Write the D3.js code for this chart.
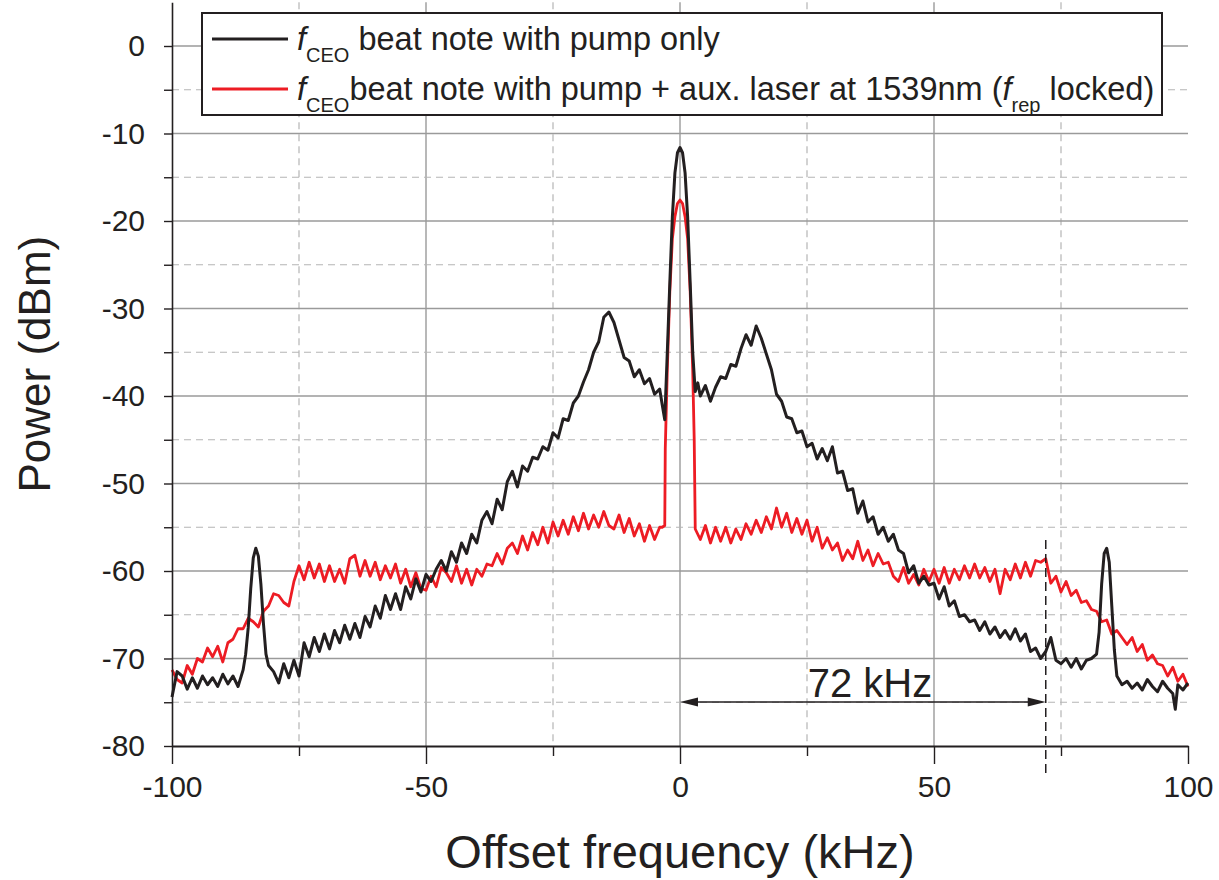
<!DOCTYPE html>
<html>
<head>
<meta charset="utf-8">
<script src="https://cdn.jsdelivr.net/npm/d3@7"></script>
<style>
  body { margin: 0; background: #fff; }
  text { font-family: "Liberation Sans", Arial, Helvetica, sans-serif; fill: #231f20; }
</style>
</head>
<body>
<svg id="chart" width="1219" height="880"></svg>
<script>
// Offset frequency (kHz) and power (dBm), f_CEO beat note with pump only
const freqPump = [
  -100,-99,-98,-97,-96,-95,-94,-93,-92,-91,-90,-89,-88,-87,-86,
  -85.5,-85,-84.5,-84,-83.5,-83,-82.5,-82,-81.5,-81,
  -80,-79,-78,-77,-76,-75,-74,-73,-72,-71,-70,-69,-68,-67,-66,-65,-64,-63,-62,-61,-60,-59,-58,-57,-56,-55,-54,-53,-52,-51,
  -50,-49,-48,-47,-46,-45,-44,-43,-42,-41,-40,-39,-38,-37,-36,-35,-34,-33,-32,-31,-30,-29,-28,-27,-26,-25,-24,-23,-22,-21,-20,
  -19,-18,-17,-16,-15,-14,-13,-12,-11,-10,-9,-8,-7,-6,-5,-4,
  -3.5,-3,-2.5,-2,-1.5,-1,-0.5,0,0.5,1,1.5,2,2.5,3,3.5,
  4,5,6,7,8,9,10,11,12,13,14,15,16,17,18,19,
  20,21,22,23,24,25,26,27,28,29,30,31,32,33,34,35,36,37,38,39,40,41,42,43,44,45,46,47,48,49,50,
  51,52,53,54,55,56,57,58,59,60,61,62,63,64,65,66,67,68,69,70,
  71,72,73,74,75,76,77,78,79,80,81,
  82,82.5,83,83.5,84,84.5,85,85.5,86,
  87,88,89,90,91,92,93,94,95,96,97,97.5,98,99,100
];
const powerPump = [
  -74.4,-71.5,-72.0,-73.5,-72.2,-73.4,-72.0,-73.0,-72.2,-73.2,-71.8,-72.9,-72.0,-73.2,-71.3,
  -69.5,-66.5,-62.0,-58.5,-57.4,-58.3,-61.5,-66.0,-69.5,-70.8,
  -71.5,-72.8,-70.6,-72.2,-70.2,-72.0,-68.2,-69.8,-67.6,-69.2,-67.2,-68.9,-66.8,-68.2,-66.2,-67.8,-66.0,-67.6,-65.2,-66.4,-64.0,-65.4,-62.8,-64.4,-62.6,-64.4,-61.8,-63.2,-60.9,-62.4,
  -60.4,-61.2,-59.8,-58.8,-60.0,-57.8,-59.0,-56.8,-58.0,-55.8,-56.8,-54.2,-53.2,-54.6,-51.8,-53.0,-49.8,-48.6,-50.4,-48.0,-48.6,-47.0,-47.2,-45.8,-46.2,-44.2,-44.8,-42.6,-42.8,-40.8,-40.0,
  -38.4,-37.0,-35.0,-33.8,-31.0,-30.4,-31.6,-33.6,-35.6,-36.0,-37.8,-37.0,-38.6,-38.0,-39.8,-39.2,
  -41.0,-42.7,-35.0,-27.0,-19.5,-14.5,-12.2,-11.6,-12.2,-14.5,-19.5,-27.0,-35.0,-39.5,-38.5,
  -40.0,-38.8,-40.6,-39.0,-37.8,-38.0,-36.4,-36.6,-34.6,-33.0,-34.2,-32.0,-33.4,-35.2,-37.0,-39.8,
  -40.6,-42.4,-42.6,-44.2,-44.0,-45.8,-45.4,-47.2,-46.0,-47.4,-45.8,-48.8,-48.6,-50.8,-50.6,-53.4,-52.0,-54.4,-53.8,-55.8,-55.0,-56.6,-55.8,-57.6,-58.0,-60.2,-59.4,-61.4,-60.6,-61.6,-61.4,
  -63.2,-61.8,-64.0,-63.4,-65.2,-65.0,-65.8,-65.6,-66.8,-65.8,-67.2,-66.4,-67.6,-66.8,-67.8,-66.6,-68.0,-67.2,-69.2,-68.8,
  -70.0,-69.2,-67.6,-70.2,-70.6,-70.0,-71.0,-70.0,-71.2,-70.2,-70.0,
  -69.5,-67.0,-61.5,-58.0,-57.4,-59.0,-64.0,-69.0,-72.0,
  -73.0,-72.6,-73.4,-72.8,-73.6,-72.4,-73.2,-73.8,-72.6,-73.4,-74.0,-75.8,-73.0,-73.6,-72.8
];

// f_CEO beat note with pump + aux. laser at 1539 nm (f_rep locked)
const freqAux = [
  -100,-99,-98,-97,-96,-95,-94,-93,-92,-91,-90,-89,-88,-87,-86,-85,-84,-83,-82,-81,-80,-79,-78,-77,
  -76,-75,-74,-73,-72,-71,-70,-69,-68,-67,-66,-65,-64,-63,-62,-61,-60,-59,-58,-57,-56,-55,-54,-53,-52,-51,-50,-49,-48,-47,-46,-45,-44,-43,-42,-41,-40,
  -39,-38,-37,-36,-35,-34,-33,-32,-31,-30,-29,-28,-27,-26,-25,-24,-23,-22,-21,-20,-19,-18,-17,-16,-15,-14,-13,-12,-11,-10,-9,-8,-7,-6,-5,-4,
  -3.5,-3,-2.9,-2.5,-2,-1.5,-1,-0.5,0,0.5,1,1.5,2,2.5,2.8,3,
  4,5,6,7,8,9,10,11,12,13,14,15,16,17,18,19,20,21,22,23,24,25,26,27,28,29,30,31,32,33,34,35,36,37,38,39,40,
  41,42,43,44,45,46,47,48,49,50,51,52,53,54,55,56,57,58,59,60,61,62,63,64,65,66,67,68,69,70,71,72,
  73,74,75,76,77,78,79,80,81,82,83,84,85,86,87,88,89,90,91,92,93,94,95,96,97,98,99,100
];
const powerAux = [
  -71.3,-72.4,-72.8,-70.8,-71.8,-70.0,-70.4,-68.8,-69.8,-68.6,-70.4,-68.2,-67.8,-66.6,-66.6,-65.4,-65.8,-66.4,-64.6,-64.0,-62.6,-62.8,-63.6,-64.0,
  -61.2,-59.4,-61.0,-59.0,-60.8,-59.2,-61.2,-59.4,-61.2,-59.8,-61.4,-58.6,-58.2,-60.6,-58.8,-60.6,-59.0,-61.0,-59.4,-60.8,-59.2,-61.4,-59.8,-61.8,-60.2,-62.0,-62.2,-60.6,-61.8,-59.6,-60.2,-61.2,-59.4,-61.4,-59.8,-61.6,-59.8,
  -60.6,-59.2,-59.4,-58.0,-59.2,-57.4,-56.8,-58.0,-56.0,-57.6,-55.6,-57.0,-55.0,-56.8,-54.4,-56.0,-54.2,-55.8,-53.8,-55.4,-53.4,-55.2,-53.6,-55.0,-53.2,-54.8,-55.2,-53.6,-55.6,-54.0,-56.0,-54.6,-56.6,-54.8,-56.4,-55.0,
  -55.0,-54.8,-46.0,-37.0,-28.0,-22.0,-19.5,-18.0,-17.6,-18.0,-19.5,-22.0,-28.0,-37.0,-45.0,-55.2,
  -56.4,-54.8,-56.8,-55.0,-56.6,-55.0,-56.8,-55.2,-56.4,-54.6,-55.8,-54.2,-55.6,-53.8,-55.2,-52.8,-55.0,-53.4,-55.6,-54.0,-55.8,-54.2,-56.6,-55.0,-57.4,-56.2,-57.6,-56.8,-58.8,-57.6,-58.6,-56.6,-58.8,-57.6,-59.4,-58.0,-59.2,
  -59.0,-60.6,-61.2,-59.6,-61.4,-60.4,-61.6,-59.8,-61.2,-59.8,-61.4,-59.6,-61.4,-59.8,-61.0,-59.4,-60.8,-59.2,-60.8,-59.6,-61.2,-59.8,-62.6,-59.8,-61.0,-59.2,-60.8,-59.0,-60.6,-58.8,-59.0,-58.6,
  -61.4,-60.6,-62.4,-61.2,-62.8,-62.2,-63.6,-63.4,-64.4,-64.6,-65.8,-65.6,-67.2,-66.8,-67.6,-68.4,-67.6,-69.2,-68.4,-70.2,-69.6,-70.6,-70.8,-72.0,-71.0,-72.6,-71.8,-73.2
];

const xMajorTicks = [-100, -50, 0, 50, 100];
const xMinorTicks = [-75, -25, 25, 75];
const yMajorTicks = [0, -10, -20, -30, -40, -50, -60, -70, -80];
const yMinorTicks = [-5, -15, -25, -35, -45, -55, -65, -75];
const spacingKHz = 72;

const BLACK = "#231f20";
const RED = "#ed1c24";

const svg = d3.select("#chart");
const x = d3.scaleLinear().domain([-100, 100]).range([172, 1188]);
const y = d3.scaleLinear().domain([-80, 5]).range([746, 2.25]);
const [x0, x1] = x.range();
const [yb, yt] = y.range();
const plainNum = d => String(d);   // ASCII hyphen for negatives

// grid
const grid = svg.append("g");
grid.selectAll("line.vmaj").data(xMajorTicks.filter(d => d > -100 && d < 100)).join("line")
  .attr("x1", d => x(d)).attr("x2", d => x(d)).attr("y1", yt).attr("y2", yb)
  .attr("stroke", "#9a9a9a").attr("stroke-width", 1.4);
grid.selectAll("line.vmin").data(xMinorTicks).join("line")
  .attr("x1", d => x(d)).attr("x2", d => x(d)).attr("y1", yt).attr("y2", yb)
  .attr("stroke", "#b5b5b5").attr("stroke-width", 1.2).attr("stroke-dasharray", "7,5");
grid.selectAll("line.hmaj").data(yMajorTicks.filter(d => d > -80)).join("line")
  .attr("x1", x0).attr("x2", x1).attr("y1", d => y(d)).attr("y2", d => y(d))
  .attr("stroke", "#9a9a9a").attr("stroke-width", 1.4);
grid.selectAll("line.hmin").data(yMinorTicks).join("line")
  .attr("x1", x0).attr("x2", x1).attr("y1", d => y(d)).attr("y2", d => y(d))
  .attr("stroke", "#b5b5b5").attr("stroke-width", 1.2).attr("stroke-dasharray", "7,5");

// spectra
const line = d3.line().x(d => x(d[0])).y(d => y(d[1]));
svg.append("path").attr("d", line(d3.zip(freqAux, powerAux))).attr("fill", "none")
  .attr("stroke", RED).attr("stroke-width", 2.8).attr("stroke-linejoin", "round");
svg.append("path").attr("d", line(d3.zip(freqPump, powerPump))).attr("fill", "none")
  .attr("stroke", BLACK).attr("stroke-width", 3).attr("stroke-linejoin", "round");

// axes
const yAxis = d3.axisLeft(y)
  .tickValues(yMajorTicks.concat(yMinorTicks))
  .tickFormat(d => (d % 10 === 0 ? plainNum(d) : ""))
  .tickSize(8).tickPadding(19).tickSizeOuter(0);
const gy = svg.append("g").attr("transform", `translate(${x0},0)`).call(yAxis);
gy.select(".domain").attr("stroke", BLACK).attr("stroke-width", 1.6);
gy.selectAll(".tick line").attr("stroke", BLACK).attr("stroke-width", 1.4);
gy.selectAll(".tick text").style("font-size", "30px").attr("fill", BLACK);

const xAxis = d3.axisBottom(x).tickValues(xMajorTicks).tickFormat(plainNum)
  .tickSize(18).tickPadding(12).tickSizeOuter(0);
const gx = svg.append("g").attr("transform", `translate(0,${yb})`).call(xAxis);
gx.select(".domain").attr("stroke", BLACK).attr("stroke-width", 1.8);
gx.selectAll(".tick line").attr("stroke", BLACK).attr("stroke-width", 1.4);
gx.selectAll(".tick text").style("font-size", "30px").attr("fill", BLACK);
const gxm = svg.append("g").attr("transform", `translate(0,${yb})`)
  .call(d3.axisBottom(x).tickValues(xMinorTicks).tickFormat("").tickSize(10).tickSizeOuter(0));
gxm.select(".domain").remove();
gxm.selectAll(".tick line").attr("stroke", BLACK).attr("stroke-width", 1.4);

// axis titles
svg.append("text").attr("x", (x0 + x1) / 2).attr("y", 868).attr("text-anchor", "middle")
  .style("font-size", "47px").text("Offset frequency (kHz)");
svg.append("text").attr("transform", `translate(50,${(yt + yb) / 2 - 10}) rotate(-90)`)
  .attr("text-anchor", "middle").style("font-size", "44px").text("Power (dBm)");

// 72 kHz spacing marker
const ya = 702;
const xs = x(0), xe = x(spacingKHz);
svg.append("line").attr("x1", xe).attr("x2", xe).attr("y1", 540).attr("y2", 778)
  .attr("stroke", BLACK).attr("stroke-width", 1.5).attr("stroke-dasharray", "9,5");
svg.append("line").attr("x1", xs + 14).attr("x2", xe - 14).attr("y1", ya).attr("y2", ya)
  .attr("stroke", BLACK).attr("stroke-width", 1.5);
svg.append("path").attr("d", `M${xs},${ya} L${xs + 18},${ya - 4.5} L${xs + 18},${ya + 4.5} Z`).attr("fill", BLACK);
svg.append("path").attr("d", `M${xe},${ya} L${xe - 18},${ya - 4.5} L${xe - 18},${ya + 4.5} Z`).attr("fill", BLACK);
svg.append("text").attr("x", 870).attr("y", 697).attr("text-anchor", "middle")
  .style("font-size", "40px").text(`${spacingKHz} kHz`);

// legend
const lg = svg.append("g");
lg.append("rect").attr("x", 202).attr("y", 13).attr("width", 960).attr("height", 102)
  .attr("fill", "#fff").attr("stroke", BLACK).attr("stroke-width", 2);
const legendRows = [
  { color: BLACK, ly: 39, ty: 50 },
  { color: RED, ly: 89, ty: 100 }
];
legendRows.forEach(r => {
  lg.append("line").attr("x1", 212).attr("x2", 288).attr("y1", r.ly).attr("y2", r.ly)
    .attr("stroke", r.color).attr("stroke-width", 3);
});
const t1 = lg.append("text").attr("x", 297).attr("y", legendRows[0].ty).style("font-size", "32.5px");
t1.append("tspan").attr("font-style", "italic").text("f");
t1.append("tspan").attr("dy", 12).style("font-size", "20px").text("CEO");
t1.append("tspan").attr("dy", -12).text(" beat note with pump only");
const t2 = lg.append("text").attr("x", 297).attr("y", legendRows[1].ty).style("font-size", "32.5px");
t2.append("tspan").attr("font-style", "italic").text("f");
t2.append("tspan").attr("dy", 12).style("font-size", "20px").text("CEO");
t2.append("tspan").attr("dy", -12).text("beat note with pump + aux. laser at 1539nm (");
t2.append("tspan").attr("font-style", "italic").text("f");
t2.append("tspan").attr("dy", 12).style("font-size", "20px").text("rep");
t2.append("tspan").attr("dy", -12).text(" locked)");
</script>
</body>
</html>
